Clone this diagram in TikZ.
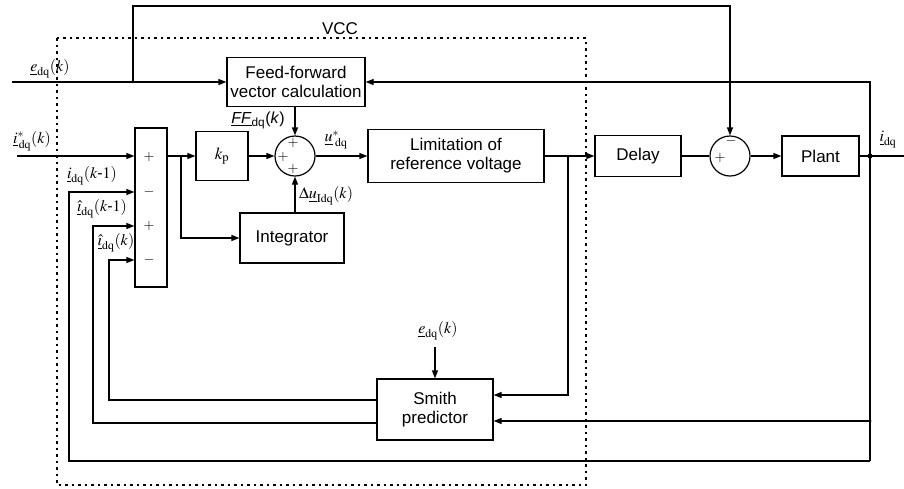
\documentclass[tikz,border=0pt]{standalone}
\usepackage{mathptmx}
\usepackage{fontspec}
\setmainfont{Liberation Sans}
\usepackage{tikz}
\usetikzlibrary{
  arrows.meta,
  positioning,
  calc
}
\definecolor{vcInk}{HTML}{000000}
\tikzset{
  vcnode/.style={
    draw=vcInk, line width=1.2pt, inner sep=0pt,
    font=\fontsize{17}{19}\selectfont, align=center
  },
  vcbox/.style={vcnode, fill=white},
  sumnode/.style={draw=vcInk, circle, line width=1.2pt, minimum size=40pt, inner sep=0pt},
  sig/.style={-{Triangle[length=8pt, width=6pt]}, line width=1.2pt, vcInk},
  wire/.style={line width=1.2pt, vcInk},
  vcc/.style={line width=1.4pt, dash pattern=on 2.5pt off 4pt, vcInk},
  tag/.style={font=\fontsize{16}{18}\selectfont, inner sep=1pt},
  sgn/.style={font=\fontsize{14}{14}\selectfont, inner sep=0pt},
  jdot/.style={circle, fill=vcInk, inner sep=0pt, minimum size=5pt}
}

\begin{document}
\begin{tikzpicture}[x=1pt, y=-1pt]
  \useasboundingbox (0,0) rectangle (904,488);
  % VCC frame
  \draw[vcc] (57,38) rectangle (586,485);
  \node[font=\fontsize{17}{19}\selectfont] (vcclbl) at (340,29) {VCC};

  % blocks
  \node[vcbox, minimum width=32pt, minimum height=159pt] (err) at (151,207.5) {};
  \node[vcbox, minimum width=52pt, minimum height=49pt] (kp) at (222,156) {$k_{\mathrm{p}}$};
  \node[sumnode] (sumc) at (295,156) {};
  \node[vcbox, minimum width=138pt, minimum height=49pt] (ff) at (296,82) {Feed-forward\\vector calculation};
  \node[vcbox, minimum width=104pt, minimum height=50pt] (integ) at (292,238) {Integrator};
  \node[vcbox, minimum width=176pt, minimum height=53pt] (lim) at (456,156) {Limitation of\\reference voltage};
  \node[vcbox, minimum width=86pt, minimum height=41pt] (delay) at (638,156) {Delay};
  \node[sumnode] (diff) at (730,156) {};
  \node[vcbox, minimum width=77pt, minimum height=40pt] (plant) at (820.5,156) {Plant};
  \node[vcbox, minimum width=116pt, minimum height=61pt] (smith) at (435,409.5) {Smith\\predictor};

  % signs
  \foreach \y/\s [count=\i] in {157/+,192/-,226/+,260/-}
    \node[sgn] (sg\i) at (149,\y) {$\s$};
  \node[sgn] (pa) at (293,143) {$+$};
  \node[sgn] (pb) at (283,157) {$+$};
  \node[sgn] (pc) at (293,169) {$+$};
  \node[sgn] (ma) at (731,141) {$-$};
  \node[sgn] (mb) at (720,158) {$+$};

  % taps and corners
  \coordinate (ein) at (12,82);
  \coordinate (tapE) at (133,82);
  \coordinate (topL) at (133,6);
  \coordinate (iref) at (17,156);
  \coordinate (tapP) at (181,156);
  \coordinate (tapU) at (568,156);
  \coordinate (smU) at (568,395);
  \coordinate (tapI) at (870,156);
  \coordinate (fbTop) at (870,82);
  \coordinate (fbSm) at (870,421);
  \coordinate (fbBot) at (870,461);
  \coordinate (fbL) at (69,461);
  \coordinate (pdL1) at (109,400);
  \coordinate (pdL2) at (93,423);
  \coordinate (iout) at (904,156);

  % forward path
  \draw[sig] (ein) -- (ff.west);
  \draw[sig] (tapE) -- (topL) -| (diff.north);
  \draw[sig] (iref) -- (err.west |- iref);
  \draw[sig] (err.east |- kp) -- (kp.west);
  \draw[sig] (tapP) |- (integ.west);
  \draw[sig] (kp.east) -- (sumc.west);
  \draw[sig] (sumc |- ff.south) -- (sumc.north);
  \draw[sig] (sumc |- integ.north) -- (sumc.south);
  \draw[sig] (sumc.east) -- (lim.west);
  \draw[sig] (lim.east) -- (delay.west);
  \draw[wire] (delay.east) -- (diff.west);
  \draw[sig] (diff.east) -- (plant.west);
  \draw[wire] (plant.east) -- (iout);
  \node[jdot] at (tapI) {};

  % feedback
  \draw[sig] (fbBot) -- (fbTop) -- (ff.east);
  \draw[sig] (fbBot) -- (fbL) |- (err.west |- sg2);
  \draw[sig] (fbSm) -- (smith.east |- fbSm);
  \node[jdot, minimum size=3pt] at (fbSm) {};
  \draw[sig] (tapU) -- (smU) -- (smith.east |- smU);
  \draw[sig] (smith.west |- pdL1) -- (pdL1) |- (err.west |- sg4);
  \draw[sig] (smith.west |- pdL2) -- (pdL2) |- (err.west |- sg3);

  % labels
  \node[tag] (elbl) at (50,69) {$\underline{e}_{\mathrm{dq}}(k)$};
  \node[tag] (irlbl) at (32,141) {$\underline{i}^{*}_{\,\mathrm{dq}}(k)$};
  \node[tag] (ik1) at (92,176) {$\underline{i}_{\mathrm{dq}}(k\mbox{-}1)$};
  \node[tag] (ih1) at (102,209) {$\underline{\hat{\imath}}_{\mathrm{dq}}(k\mbox{-}1)$};
  \node[tag] (ih0) at (116,243) {$\underline{\hat{\imath}}_{\mathrm{dq}}(k)$};
  \node[tag] (fflbl) at (258,120) {\underline{\textit{FF}}\textsubscript{dq}(\textit{k})};
  \node[tag] (ulbl) at (336,140) {$\underline{u}^{*}_{\;\mathrm{dq}}$};
  \node[tag, anchor=west] (dulbl) at (298,196) {$\Delta\underline{u}_{\mathrm{Idq}}(k)$};
  \node[tag] (iolbl) at (888,140) {$\underline{i}_{\mathrm{dq}}$};
  \node[tag] (esm) at (438,331) {$\underline{e}_{\mathrm{dq}}(k)$};
  \draw[sig, shorten <=6pt] (esm.south -| smith.north) -- (smith.north);
\end{tikzpicture}
\end{document}
